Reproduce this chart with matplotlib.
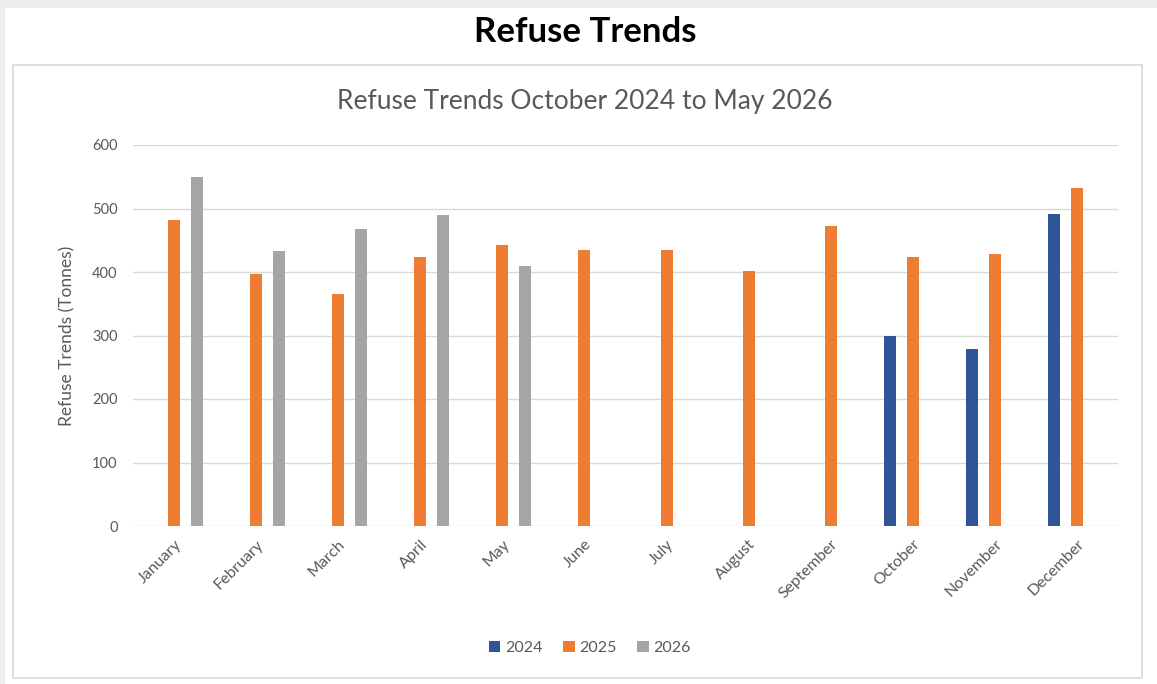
import matplotlib
matplotlib.use("Agg")
import matplotlib.pyplot as plt
from matplotlib.patches import Rectangle, Patch
import numpy as np

months = ["January", "February", "March", "April", "May", "June", "July",
          "August", "September", "October", "November", "December"]
series_names = ["2024", "2025", "2026"]
vals_2024 = [np.nan]*9 + [300, 278, 491]
vals_2025 = [482, 397, 365, 423, 442, 435, 435, 402, 473, 424, 429, 533]
vals_2026 = [550, 433, 468, 489, 409] + [np.nan]*7
yticks = [0, 100, 200, 300, 400, 500, 600]

colors = ["#2F5597", "#ED7D31", "#A5A5A5"]
txt = "#595959"
plt.rcParams['font.family'] = ['Lato', 'DejaVu Sans']

W, H = 1157, 684
fig = plt.figure(figsize=(W/100, H/100), dpi=100)

# background shadow bands and inner frame
fig.patches.append(Rectangle((0, 1-8/H), 1, 8/H, transform=fig.transFigure,
                             facecolor="#eeeeee", edgecolor="none", zorder=-10))
fig.patches.append(Rectangle((0, 0), 5/W, 1, transform=fig.transFigure,
                             facecolor="#eeeeee", edgecolor="none", zorder=-10))
fig.patches.append(Rectangle((13/W, 1-678/H), (1142-13)/W, (678-65)/H,
                             transform=fig.transFigure, facecolor="white",
                             edgecolor="#d9d9d9", lw=1.2, zorder=-9))

ax = fig.add_axes([133/W, 1-526/H, (1118-133)/W, (526-145)/H])
ax.set_zorder(1)
ax.set_facecolor("none")
x = np.arange(len(months))
w = 0.146
off = 0.276
for i, (vals, c, n) in enumerate(zip([vals_2024, vals_2025, vals_2026], colors, series_names)):
    ax.bar(x + (i-1)*off, vals, width=w, color=c, label=n, zorder=3)

ax.set_xlim(-0.5, len(months)-0.5)
ax.set_ylim(0, 600)
ax.set_yticks(yticks)
ax.set_yticklabels([str(t) for t in yticks], color=txt, fontsize=10.5)
ax.grid(axis='y', color="#d9d9d9", lw=1, zorder=0)
for s in ax.spines.values():
    s.set_visible(False)
ax.tick_params(axis='both', length=0)
ax.tick_params(axis='y', pad=11)
ax.set_xticks(x)
ax.set_xticklabels(months, rotation=45, ha='right', rotation_mode='anchor',
                   color=txt, fontsize=11.5)
ax.tick_params(axis='x', pad=8)
ax.set_ylabel("Refuse Trends (Tonnes)", color=txt, fontsize=12.5, labelpad=12)

fig.text(585/W, 1-32/H, "Refuse Trends", ha='center', va='center',
         fontsize=25, fontweight='bold', color='black')
fig.text(585/W, 1-102/H, "Refuse Trends October 2024 to May 2026", ha='center',
         va='center', fontsize=19, color=txt)

handles = [Patch(facecolor=c, edgecolor='none') for c in colors]
fig.legend(handles, series_names, loc='center', bbox_to_anchor=(590/W, 1-648/H),
           ncol=3, frameon=False, fontsize=11.5, labelcolor=txt,
           handlelength=0.7, handleheight=0.7, handletextpad=0.3, columnspacing=1.3)

fig.savefig("out.png", dpi=100)
